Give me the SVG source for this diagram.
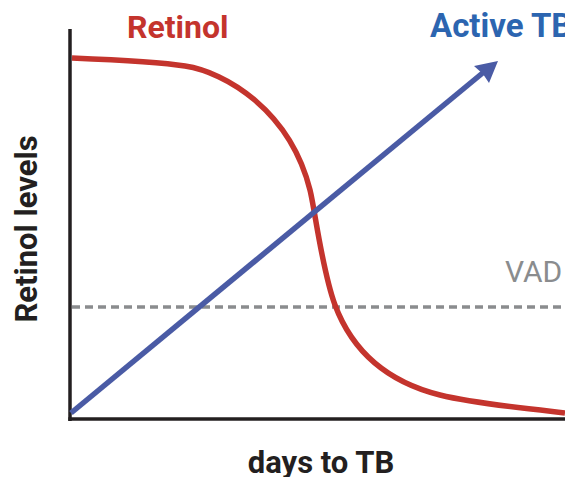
<svg xmlns="http://www.w3.org/2000/svg" width="565" height="477" viewBox="0 0 565 477">
<style>
.t{font-family:Roboto,"Liberation Sans",sans-serif;font-weight:bold}
.ax{stroke:#231f20;stroke-width:3.5;fill:none}
</style>
<rect width="565" height="477" fill="#fff"/>
<g id="axes">
<line class="ax" x1="70" y1="29" x2="70" y2="421"/>
<line class="ax" x1="68.3" y1="419" x2="565" y2="419"/>
</g>
<g id="vad-threshold">
<line x1="72" y1="307" x2="565" y2="307" stroke="#8a8c8e" stroke-width="3.5" stroke-dasharray="8 5"/>
<text x="505" y="282" font-family="Roboto,'Liberation Sans',sans-serif" font-size="30" fill="#8a8c8e">VAD</text>
</g>
<g id="connectors">
<path id="retinol-curve" d="M72,58 C120,60 160,62 185,66 C225,72 290,110 310,190 C315,210 322,270 335,305 C350,345 380,380 440,395 C480,405 530,408 565,413" fill="none" stroke="#c4342d" stroke-width="5.5"/>
<line id="tb-line" x1="71" y1="413" x2="485" y2="71" stroke="#4a5ba5" stroke-width="5.5"/>
<polygon points="498,61 474,66 483,74 489,83" fill="#4a5ba5"/>
</g>
<g id="labels">
<text class="t" x="127" y="38" font-size="32" fill="#c4342d">Retinol</text>
<text class="t" x="430" y="37" font-size="33" fill="#2c65b0">Active TB</text>
<text class="t" x="321" y="473" font-size="31" fill="#231f20" text-anchor="middle">days to TB</text>
<text class="t" transform="translate(37,229) rotate(-90)" font-size="31" fill="#231f20" text-anchor="middle">Retinol levels</text>
</g>
</svg>
